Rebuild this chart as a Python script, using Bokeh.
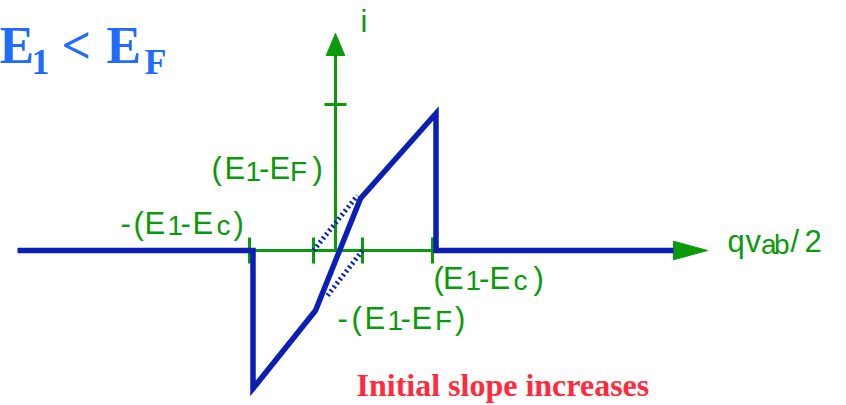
from bokeh.plotting import figure
from bokeh.models import ColumnDataSource, Range1d
from bokeh.embed import file_html
from bokeh.resources import INLINE

# ---- data: tunnelling current i versus qv_ab/2 (units scaled to the drawing, origin where the axes cross)
tick_names = ["-(E1-Ec)", "-(E1-EF)", "(E1-EF)", "(E1-Ec)"]
bias_ticks = [-86, -22, 27, 97]
current_ticks = [146]

iv_bias = [-318, -82.5, -82.5, -20, 25, 100.5, 100.5, 338]
iv_current = [0, 0, -138, -60, 52, 137, 0, 0]

# linear extensions of the outer branches (the lower-bias slope)
ext_upper_bias = [-22, 22]
ext_upper_current = [0, 55]
ext_lower_bias = [27, -8]
ext_lower_current = [0, -45]

# ---- styling
GREEN = "#0a9a0a"
BLUE = "#0b1fb6"
TITLE_BLUE = "#1f6cff"
RED = "#ff2b3c"
SANS = "Liberation Sans"
SERIF = "Liberation Serif"
# the text glyph sits a little low for an alphabetic baseline; lift by a fraction of the size
LIFT = {SANS: 0.40, SERIF: 0.33}

X0, Y0 = 335, 250          # pixel position of the origin
W, H = 846, 405

p = figure(width=W, height=H, x_range=Range1d(-X0, W - X0), y_range=Range1d(Y0 - H, Y0),
           output_backend="svg", toolbar_location=None, min_border=0)
p.axis.visible = False
p.grid.visible = False
p.outline_line_color = None
p.background_fill_color = "white"
p.border_fill_color = "white"

# axes with arrowheads
axis_left, axis_right = -300, 338
p.line([axis_left, axis_right], [0, 0], line_color=GREEN, line_width=3)
p.line([0, 0], [0, 195], line_color=GREEN, line_width=3)
p.patch([axis_right, axis_right + 34, axis_right], [9.3, 0, -9.3], color=GREEN)
p.patch([-9.3, 0, 9.3], [195, 217, 195], color=GREEN)

p.segment(x0=bias_ticks, y0=[-13] * 4, x1=bias_ticks, y1=[13] * 4,
          line_color=GREEN, line_width=3)
p.segment(x0=[-11], y0=current_ticks, x1=[11], y1=current_ticks,
          line_color=GREEN, line_width=3)

# extrapolated slopes, hatched
for xs, ys in [(ext_upper_bias, ext_upper_current), (ext_lower_bias, ext_lower_current)]:
    p.line(xs, ys, line_color=BLUE, line_width=5, line_dash="2 3", line_cap="butt")

# i-v characteristic
p.line(iv_bias, iv_current, line_color=BLUE, line_width=5.5, line_join="miter")


def pieces(items, color, font, style="normal"):
    """items: (text, left x in px, baseline y in px, font size in px)"""
    k = LIFT[font]
    src = ColumnDataSource(dict(
        text=[t for t, _, _, _ in items],
        x=[px - X0 for _, px, _, _ in items],
        y=[Y0 - py + k * s for _, _, py, s in items],
        size=[f"{s}px" for _, _, _, s in items],
    ))
    p.text(x="x", y="y", text="text", source=src, text_font_size="size",
           text_color=color, text_font={"value": font}, text_font_style=style,
           text_align="left", text_baseline="alphabetic")


M, S = 31, 28   # main and subscript sizes

green_labels = [
    # (E1-EF) above the axis
    ("(", 211, 180, M), ("E", 224, 180, M), ("1", 245, 182.5, S), ("-", 258.5, 180, M),
    ("E", 269, 180, M), ("F", 289.5, 182.5, S), (")", 312, 180, M),
    # -(E1-Ec)
    ("-", 120, 235, M), ("(", 133, 235, M), ("E", 144, 235, M), ("1", 167, 236.5, S),
    ("-", 180, 235, M), ("E", 192, 235, M), ("c", 216, 236.5, S), (")", 233, 235, M),
    # (E1-Ec)
    ("(", 433, 290, M), ("E", 442.5, 290, M), ("1", 465, 291.5, S), ("-", 478.5, 290, M),
    ("E", 489, 290, M), ("c", 513, 291.5, S), (")", 533, 290, M),
    # -(E1-EF)
    ("-", 337, 330, M), ("(", 351, 330, M), ("E", 364, 330, M), ("1", 387, 331.5, S),
    ("-", 400, 330, M), ("E", 411, 330, M), ("F", 434.5, 331.5, S), (")", 454.5, 330, M),
    # axis names
    ("q", 727, 253, M), ("v", 745, 253, M), ("a", 760.5, 255, S), ("b", 773.5, 255, S),
    ("/", 790, 253, M), ("2", 804, 253, M),
    ("i", 360, 33, M),
]
pieces(green_labels, GREEN, SANS)

title = [("E", -1, 62, 52), ("1", 31, 73, 36), ("<", 61, 62, 52), ("E", 106, 62, 52), ("F", 144, 73, 36)]
pieces(title, TITLE_BLUE, SERIF, "bold")

pieces([("Initial slope increases", 356, 395, 32)], RED, SERIF, "bold")

open("out.html", "w").write(file_html(p, INLINE))
